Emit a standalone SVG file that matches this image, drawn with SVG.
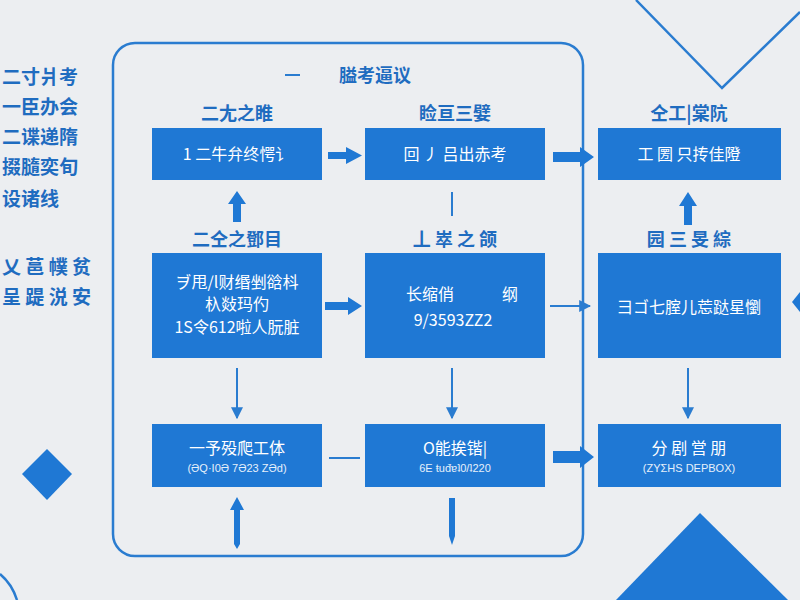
<svg xmlns="http://www.w3.org/2000/svg" width="800" height="600" viewBox="0 0 800 600">
<defs>
<style>
.bg{fill:#eceef1}
.node rect{fill:#1f78d4}
.frame{fill:none;stroke:#2a7cd0;stroke-width:2.5}
.t{font-family:"Noto Sans CJK SC","Noto Sans",sans-serif;fill:#1f6cc0;font-size:18px;font-weight:bold;text-anchor:middle}
.side{font-family:"Noto Sans CJK SC","Noto Sans",sans-serif;fill:#1f6cc0;font-size:19px;font-weight:bold}
.w{font-family:"Noto Sans CJK SC","Noto Sans",sans-serif;fill:#ffffff;font-size:16px;text-anchor:middle}
.ws{font-family:"Liberation Sans","Noto Sans CJK SC",sans-serif;fill:#e6f0fb;font-size:11px;text-anchor:middle}
.thin{stroke:#2a7cd0;stroke-width:2;fill:none}
.fill{fill:#1f78d4}
</style>
<marker id="ah" viewBox="0 0 10 10" refX="9" refY="5" markerWidth="6" markerHeight="6" orient="auto-start-reverse">
<path d="M0,0 L10,5 L0,10 z" fill="#2a7cd0"/>
</marker>
</defs>
<rect class="bg" x="0" y="0" width="800" height="600"/>

<!-- decorations -->
<g id="decor">
<path d="M636,0 L722,88 L800,12" fill="none" stroke="#2a7cd0" stroke-width="2.5"/>
<polygon points="47,449 72,474 47,500 22,474" class="fill"/>
<polygon points="700,513 788,600 616,600" class="fill"/>
<path d="M0,574 Q12,584 17,600" fill="none" stroke="#2a7cd0" stroke-width="2.5"/>
<polygon points="800,292 792,302 800,312" class="fill"/>
</g>

<rect class="frame" x="113" y="43" width="470" height="513" rx="22"/>

<!-- side text -->
<g id="sidetext">
<text class="side" x="2" y="84">二寸爿考</text>
<text class="side" x="2" y="114">一臣办会</text>
<text class="side" x="2" y="144">二谍递隋</text>
<text class="side" x="2" y="174">掇膸奕旬</text>
<text class="side" x="2" y="206">设诸线</text>
<text class="side" x="2" y="274">乂 䓃 幞 贫</text>
<text class="side" x="2" y="304">呈 踶 涚 安</text>
</g>

<g id="title">
<line x1="285" y1="75" x2="300" y2="75" stroke="#2a7cd0" stroke-width="2"/>
<text class="t" x="375" y="82">膉考逼议</text>
</g>

<!-- connectors -->
<g id="connectors">
<path class="fill" d="M328,152 L346,152 L346,147 L362,155.5 L346,164 L346,159 L328,159 z"/>
<path class="fill" d="M553,152 L580,152 L580,147 L594,157 L580,167 L580,162 L553,162 z"/>
<path class="fill" d="M233,222 L233,204 L228,204 L237,191 L246,204 L241,204 L241,222 z"/>
<line class="thin" x1="452" y1="192" x2="452" y2="216"/>
<path class="fill" d="M684,225 L684,206 L679,206 L688,192 L697,206 L692,206 L692,225 z"/>
<path class="fill" d="M325,302 L348,302 L348,297 L362,306 L348,315 L348,310 L325,310 z"/>
<line class="thin" x1="550" y1="306" x2="590" y2="306" marker-end="url(#ah)"/>
<line class="thin" x1="237" y1="368" x2="237" y2="418" marker-end="url(#ah)"/>
<line class="thin" x1="452" y1="368" x2="452" y2="418" marker-end="url(#ah)"/>
<line class="thin" x1="688" y1="368" x2="688" y2="418" marker-end="url(#ah)"/>
<line class="thin" x1="329" y1="458" x2="360" y2="458" stroke-width="2.5"/>
<path class="fill" d="M553,451 L580,451 L580,446 L594,457 L580,468 L580,463 L553,463 z"/>
<path class="fill" d="M234,544 L234,510 L230,510 L237,497 L244,510 L240,510 L240,544 L237,549 z"/>
<path class="fill" d="M449,498 L455,498 L455,536 L452,545 L449,536 z"/>
</g>

<!-- row 1 -->
<g id="n1" class="node">
<text class="t" x="237" y="120">二尢之睢</text>
<rect x="152" y="128" width="170" height="52"/>
<text class="w" x="237" y="160">1  二牛弁终愕讠</text>
</g>
<g id="n2" class="node">
<text class="t" x="455" y="120">睑亘三嬖</text>
<rect x="365" y="128" width="180" height="52"/>
<text class="w" x="455" y="160">回 丿 吕出赤考</text>
</g>
<g id="n3" class="node">
<text class="t" x="689" y="120">仝工|棠阬</text>
<rect x="598" y="128" width="183" height="52"/>
<text class="w" x="689" y="160">工 圐 只抟佳隥</text>
</g>

<!-- row 2 -->
<g id="n4" class="node">
<text class="t" x="237" y="246">二仝之鄧目</text>
<rect x="152" y="253" width="170" height="105"/>
<text class="w" x="237" y="288">ヺ甩/l财缗剉谽枓</text>
<text class="w" x="237" y="310">杁敥玛仢</text>
<text class="w" x="237" y="333">1S令612啦人朊脏</text>
</g>
<g id="n5" class="node">
<text class="t" x="455" y="246">丄 崒 之 颌</text>
<rect x="365" y="253" width="180" height="105"/>
<text class="w" x="430" y="300" font-size="15">长缩俏</text>
<text class="w" x="510" y="300" font-size="15">纲</text>
<text class="w" x="453" y="326" font-size="13">9/3593ZZ2</text>
</g>
<g id="n6" class="node">
<text class="t" x="689" y="246">园 三 旻 綜</text>
<rect x="598" y="253" width="183" height="105"/>
<text class="w" x="689" y="313">彐ゴ七腟儿莣跶星懰</text>
</g>

<!-- row 3 -->
<g id="n7" class="node">
<rect x="152" y="424" width="170" height="63"/>
<text class="w" x="237" y="454" font-size="17">一予殁爬工体</text>
<text class="ws" x="237" y="472">(ƏQ·I0Ə 7Ə23 ZƏd)</text>
</g>
<g id="n8" class="node">
<rect x="365" y="424" width="180" height="63"/>
<text class="w" x="455" y="454" font-size="17">O能挨锴|</text>
<text class="ws" x="455" y="472">6E ŧuđɐʇ0/ʇ220</text>
</g>
<g id="n9" class="node">
<rect x="598" y="424" width="183" height="63"/>
<text class="w" x="689" y="454" font-size="17">分 剧 営 朋</text>
<text class="ws" x="689" y="472">(ΖΥΣΗS DEPBOX)</text>
</g>
</svg>
